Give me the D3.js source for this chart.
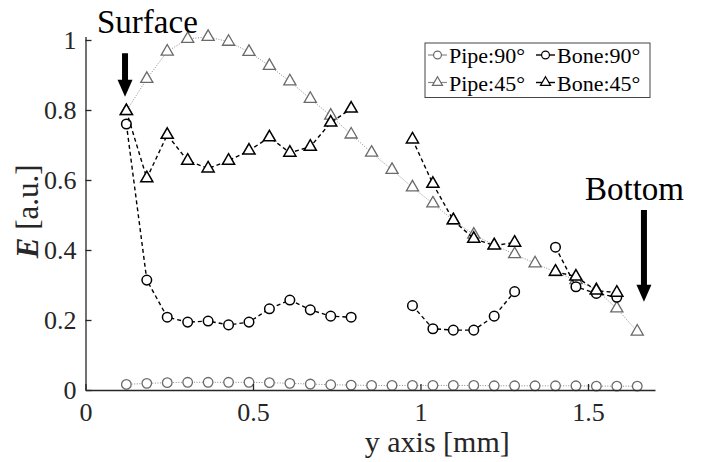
<!DOCTYPE html>
<html>
<head>
<meta charset="utf-8">
<script src="https://cdn.jsdelivr.net/npm/d3@7/dist/d3.min.js"></script>
</head>
<body style="margin:0; background:#fff">
<svg id="chart" width="701" height="462"></svg>
<script>
/*
 * modulus along depth - pipe vs bone, two angles
 */

// depth positions of the measurement points [mm]
const depths = [0.122, 0.183, 0.244, 0.305, 0.366, 0.427, 0.488, 0.549, 0.610, 0.671, 0.732, 0.793, 0.854,
	0.915, 0.976, 1.037, 1.098, 1.159, 1.220, 1.281, 1.342, 1.403, 1.464, 1.525, 1.586, 1.647];

// E [a.u.], null = no value measured (gap in the line)
const pipe90 = [0.016, 0.019, 0.021, 0.022, 0.022, 0.022, 0.022, 0.021, 0.019, 0.017, 0.015, 0.014, 0.013,
	0.013, 0.013, 0.013, 0.013, 0.013, 0.012, 0.012, 0.012, 0.012, 0.012, 0.011, 0.011, 0.011];
const bone90 = [0.760, 0.314, 0.208, 0.194, 0.197, 0.186, 0.194, 0.232, 0.257, 0.229, 0.211, 0.208, null,
	null, 0.241, 0.175, 0.171, 0.171, 0.211, 0.281, null, 0.408, 0.295, 0.276, 0.265, null];
const pipe45 = [0.797, 0.889, 0.967, 1.003, 1.009, 0.995, 0.966, 0.926, 0.882, 0.832, 0.784, 0.730, 0.678,
	0.629, 0.579, 0.533, 0.485, 0.444, 0.414, 0.388, 0.362, 0.337, 0.314, 0.286, 0.233, 0.167];
const bone45 = [0.797, 0.605, 0.729, 0.655, 0.633, 0.655, 0.684, 0.722, 0.678, 0.695, 0.764, 0.804, null,
	null, 0.716, 0.589, 0.485, 0.432, 0.413, 0.421, null, 0.338, 0.324, 0.284, 0.278, null];

const seriesNames = ['Pipe:90°', 'Bone:90°', 'Pipe:45°', 'Bone:45°'];
const xTicks = [0, 0.5, 1, 1.5];
const yTicks = [0, 0.2, 0.4, 0.6, 0.8, 1];

const FONT = 'Liberation Serif';


class DepthChart {

	/**
	* constructor function
	* @param {string} chartSelector The selector for the svg-element
	* @param {object} options settings to override
	* @returns {undefined}
	*/
	constructor(chartSelector, options) {
		let defaults = {
			margin: { top: 36.5, left: 85.5, bottom: 72, right: 46 },
			xMax: 1.7,
			yMax: 1.01
		};
		this.settings = Object.assign({}, defaults, options);
		this.chart = d3.select(chartSelector);
		this.width = +this.chart.attr('width') - this.settings.margin.left - this.settings.margin.right;
		this.height = +this.chart.attr('height') - this.settings.margin.top - this.settings.margin.bottom;

		// the four series, pipes first so bone markers end up on top
		this.series = [
			{ name: seriesNames[0], values: pipe90, symbol: d3.symbolCircle, kind: 'pipe' },
			{ name: seriesNames[2], values: pipe45, symbol: d3.symbolTriangle, kind: 'pipe' },
			{ name: seriesNames[1], values: bone90, symbol: d3.symbolCircle, kind: 'bone' },
			{ name: seriesNames[3], values: bone45, symbol: d3.symbolTriangle, kind: 'bone' }
		];

		this.createChart();
	}


	/**
	* append a text with the serif font set directly on it
	*/
	_text(parent, size, fill) {
		return parent.append('text')
			.attr('font-family', FONT)
			.attr('font-size', size)
			.attr('fill', fill || '#000');
	};


	/**
	* line + marker style per kind
	*/
	_style(kind) {
		if (kind === 'pipe') {
			return { line: '#8a8a8a', dash: '1,1.6', lineWidth: 1, marker: '#6a6a6a', markerWidth: 1.3 };
		}
		return { line: '#000', dash: '4,3', lineWidth: 1.4, marker: '#000', markerWidth: 1.5 };
	};


	_symbolSize(symbol, small) {
		if (symbol === d3.symbolCircle) {
			return small ? 48 : 72;
		}
		return small ? 44 : 64;
	};


	_createScales() {
		this.x = d3.scaleLinear().domain([0, this.settings.xMax]).range([0, this.width]);
		this.y = d3.scaleLinear().domain([0, this.settings.yMax]).range([this.height, 0]);
	};


	_styleAxis(axis) {
		axis.attr('font-family', FONT).attr('font-size', 26);
		axis.selectAll('path, line').attr('stroke', '#262626').attr('stroke-width', 1.3);
		axis.selectAll('text')
			.attr('font-family', FONT)
			.attr('font-size', 26)
			.attr('fill', '#262626');
	};


	_createAxes() {
		let m = this.settings.margin;

		let xAxis = this.chart.append('g')
			.attr('transform', 'translate(' + m.left + ',' + (m.top + this.height) + ')')
			.call(d3.axisBottom(this.x).tickValues(xTicks).tickSize(-6).tickSizeOuter(0)
				.tickPadding(12.5).tickFormat(d3.format('')));

		let yAxis = this.chart.append('g')
			.attr('transform', 'translate(' + m.left + ',' + m.top + ')')
			.call(d3.axisLeft(this.y).tickValues(yTicks).tickSize(-6).tickSizeOuter(0)
				.tickPadding(9).tickFormat(d3.format('')));

		this._styleAxis(xAxis);
		this._styleAxis(yAxis);

		// axis titles
		this._text(this.chart, 30, '#262626')
			.attr('x', m.left + this.x(1.05))
			.attr('y', 452)
			.attr('text-anchor', 'middle')
			.text('y axis [mm]');

		let yTitle = this._text(this.chart, 31, '#262626')
			.attr('transform', 'translate(38,' + (m.top + this.height / 2 - 2) + ') rotate(-90)')
			.attr('text-anchor', 'middle');
		yTitle.append('tspan').attr('font-family', FONT)
			.attr('font-weight', 'bold').attr('font-style', 'italic').text('E');
		yTitle.append('tspan').attr('font-family', FONT).text(' [a.u.]');
	};


	_addSeries() {
		let m = this.settings.margin;
		let plot = this.chart.append('g')
			.attr('transform', 'translate(' + m.left + ',' + m.top + ')');

		let line = d3.line()
			.defined((d) => d.value !== null)
			.x((d) => this.x(d.depth))
			.y((d) => this.y(d.value));

		this.series.forEach((s) => {
			let st = this._style(s.kind);
			let points = depths.map((depth, i) => ({ depth: depth, value: s.values[i] }));

			plot.append('path')
				.datum(points)
				.attr('fill', 'none')
				.attr('stroke', st.line)
				.attr('stroke-width', st.lineWidth)
				.attr('stroke-dasharray', st.dash)
				.attr('d', line);

			plot.append('g')
				.selectAll('path')
				.data(points.filter((d) => d.value !== null))
				.enter()
				.append('path')
				.attr('transform', (d) => 'translate(' + this.x(d.depth) + ',' + this.y(d.value) + ')')
				.attr('d', d3.symbol().type(s.symbol).size(this._symbolSize(s.symbol, false)))
				.attr('fill', '#fff')
				.attr('stroke', st.marker)
				.attr('stroke-width', st.markerWidth);
		});
	};


	_addLegend() {
		let legend = this.chart.append('g').attr('transform', 'translate(425,43)');

		legend.append('rect')
			.attr('width', 225)
			.attr('height', 54.5)
			.attr('fill', '#fff')
			.attr('stroke', '#444')
			.attr('stroke-width', 1);

		// row-wise layout: Pipe:90 Bone:90 / Pipe:45 Bone:45
		let order = [this.series[0], this.series[2], this.series[1], this.series[3]];
		order.forEach((s, i) => {
			let st = this._style(s.kind),
				col = i % 2,
				row = Math.floor(i / 2),
				item = legend.append('g')
					.attr('transform', 'translate(' + (3 + col * 108) + ',' + (12 + row * 27.5) + ')');

			item.append('line')
				.attr('x1', 0).attr('x2', 19)
				.attr('stroke', st.line)
				.attr('stroke-width', s.kind === 'pipe' ? 1.2 : 1.4);

			item.append('path')
				.attr('transform', 'translate(9.5,0)')
				.attr('d', d3.symbol().type(s.symbol).size(this._symbolSize(s.symbol, true)))
				.attr('fill', '#fff')
				.attr('stroke', st.marker)
				.attr('stroke-width', 1.2);

			this._text(item, 22)
				.attr('x', 21)
				.attr('y', 8)
				.text(s.name);
		});
	};


	/**
	* Surface / Bottom arrows
	*/
	_addAnnotations() {
		let m = this.settings.margin;
		let notes = [
			{ text: 'Surface', tx: 97, ty: 33, depth: 0.118, top: 0.962, tip: 0.838 },
			{ text: 'Bottom', tx: 585, ty: 200, depth: 1.667, top: 0.514, tip: 0.252 }
		];

		notes.forEach((n) => {
			this._text(this.chart, 33)
				.attr('x', n.tx)
				.attr('y', n.ty)
				.text(n.text);

			let cx = m.left + this.x(n.depth),
				y0 = m.top + this.y(n.top),
				y1 = m.top + this.y(n.tip),
				headLen = 17;

			this.chart.append('path')
				.attr('d', 'M' + (cx - 3) + ',' + y0 + 'L' + (cx + 3) + ',' + y0 +
					'L' + (cx + 3) + ',' + (y1 - headLen) + 'L' + (cx + 7.5) + ',' + (y1 - headLen) +
					'L' + cx + ',' + y1 + 'L' + (cx - 7.5) + ',' + (y1 - headLen) +
					'L' + (cx - 3) + ',' + (y1 - headLen) + 'Z')
				.attr('fill', '#000');
		});
	};


	createChart() {
		this._createScales();
		this._addSeries();
		this._createAxes();
		this._addLegend();
		this._addAnnotations();
	};
}

new DepthChart('#chart');
</script>
</body>
</html>
